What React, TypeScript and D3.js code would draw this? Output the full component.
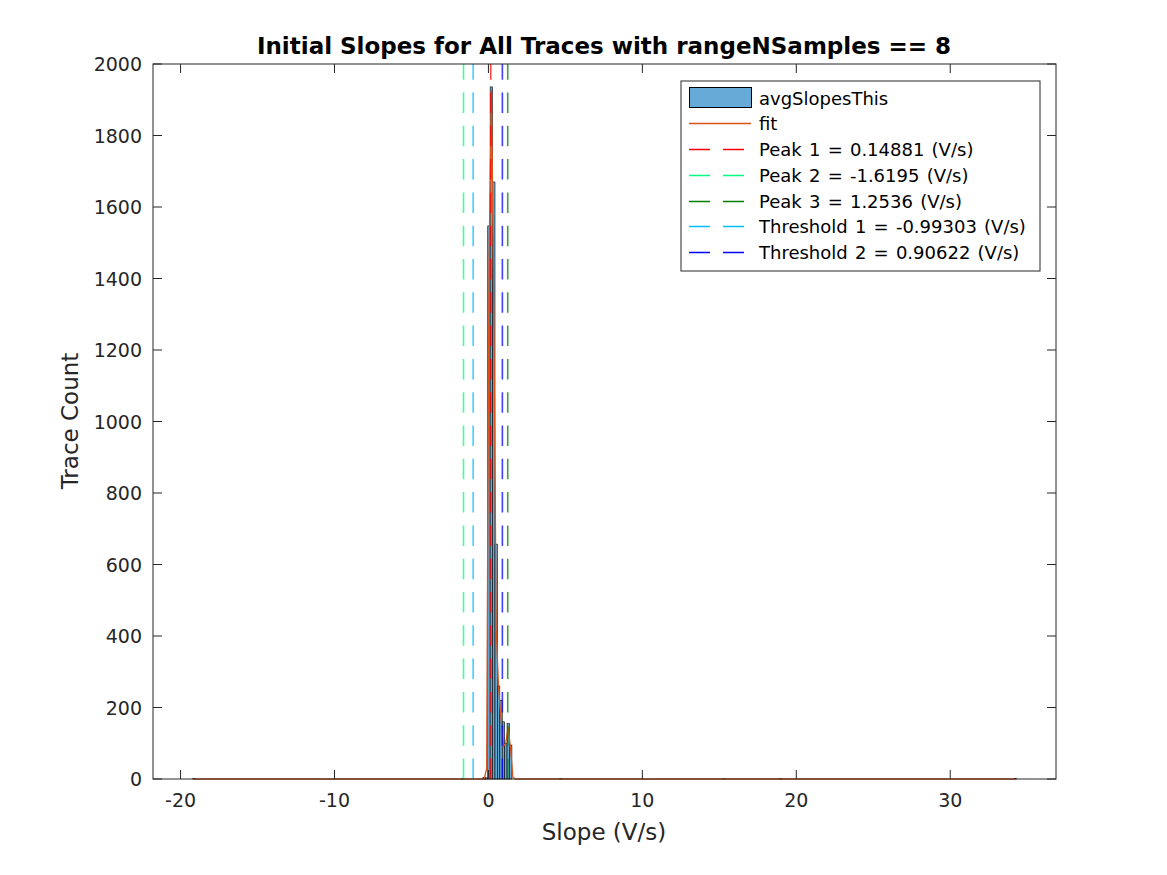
import React from 'react';
import * as d3 from 'd3';

// histogram (avgSlopesThis) - main cluster, consecutive bins
const binWidth = 0.157;
const clusterStart = -0.045;
const clusterCounts = [1547, 1936, 1670, 657, 260, 220, 160, 100, 155, 95];
// isolated small bins (left edge, count)
const strayBinLefts = [-19.2, -1.75, -0.36, -0.2, 4.62, 15.25, 18.9, 34.15];
const strayBinCounts = [1, 2, 4, 3, 2, 1, 1, 1];

// fit curve points
const fitX = [-19.15, -0.27, -0.115, 0.04, 0.195, 0.35, 0.505, 0.66, 0.815, 0.97, 1.125, 1.28, 1.435, 1.59, 1.75, 34.2];
const fitY = [0, 0, 30, 1450, 1930, 1300, 420, 255, 170, 92, 100, 145, 85, 5, 0, 0];

// vertical markers
const markerLabels = ['Peak 1 = 0.14881 (V/s)', 'Peak 2 = -1.6195 (V/s)', 'Peak 3 = 1.2536 (V/s)', 'Threshold 1 = -0.99303 (V/s)', 'Threshold 2 = 0.90622 (V/s)'];
const markerValues = [0.14881, -1.6195, 1.2536, -0.99303, 0.90622];
const markerColors = ['#ff0000', '#00ff80', '#008000', '#00bfff', '#0000ff'];

const xTicks = [-20, -10, 0, 10, 20, 30];
const yTicks = [0, 200, 400, 600, 800, 1000, 1200, 1400, 1600, 1800, 2000];

const W = 1167, H = 875;
const margin = { left: 153, right: 1056, top: 64, bottom: 779 };
const axisColor = '#262626';
const font = '"DejaVu Sans", sans-serif';
const dash = '20.5 12.8';
const tickFont = 19;
const labelFont = 23;
const legendFont = 18;

export default function App() {
    const x = d3.scaleLinear().domain([-21.79, 36.87]).range([margin.left, margin.right]);
    const y = d3.scaleLinear().domain([0, 2000]).range([margin.bottom, margin.top]);

    const bins = clusterCounts.map((c, i) => ({ x0: clusterStart + i * binWidth, count: c }))
        .concat(strayBinLefts.map((l, i) => ({ x0: l, count: strayBinCounts[i] })));

    const fitLine = d3.line<number>()
        .x((d, i) => x(fitX[i]))
        .y(d => y(d));

    const legendX = 681, legendY = 81, legendW = 359, legendH = 190;
    const rowH = 25.8;

    return (
        <svg width={W} height={H} style={{ position: 'absolute', left: 0, top: 0, background: '#fff' }}>
            <rect x={0} y={0} width={W} height={H} fill="#fff" />

            {/* histogram */}
            {bins.map((b, i) => (
                <rect key={'b' + i}
                    x={x(b.x0)} width={x(b.x0 + binWidth) - x(b.x0)}
                    y={y(b.count)} height={y(0) - y(b.count)}
                    fill="#66aad7" stroke="#000" strokeWidth={0.6} />
            ))}

            {/* fit */}
            <path d={fitLine(fitY) || ''} fill="none" stroke="#d95319" strokeWidth={1.3} />

            {/* markers */}
            {markerValues.map((v, i) => (
                <line key={'m' + i} x1={x(v)} x2={x(v)} y1={y(0)} y2={y(2000)}
                    stroke={markerColors[i]} strokeWidth={1.6} strokeOpacity={0.75} strokeDasharray={dash} />
            ))}

            {/* axes box */}
            <rect x={margin.left} y={margin.top} width={margin.right - margin.left} height={margin.bottom - margin.top}
                fill="none" stroke={axisColor} strokeWidth={1} />
            {xTicks.map(t => (
                <g key={'xt' + t}>
                    <line x1={x(t)} x2={x(t)} y1={margin.bottom} y2={margin.bottom - 9} stroke={axisColor} />
                    <line x1={x(t)} x2={x(t)} y1={margin.top} y2={margin.top + 9} stroke={axisColor} />
                    <text x={x(t)} y={margin.bottom + 28} textAnchor="middle" fontFamily={font} fontSize={tickFont} fill={axisColor}>{t}</text>
                </g>
            ))}
            {yTicks.map(t => (
                <g key={'yt' + t}>
                    <line x1={margin.left} x2={margin.left + 9} y1={y(t)} y2={y(t)} stroke={axisColor} />
                    <line x1={margin.right} x2={margin.right - 9} y1={y(t)} y2={y(t)} stroke={axisColor} />
                    <text x={margin.left - 11} y={y(t) + 7} textAnchor="end" fontFamily={font} fontSize={tickFont} fill={axisColor}>{t}</text>
                </g>
            ))}

            {/* labels */}
            <text x={604} y={54} textAnchor="middle" fontFamily={font} fontSize={labelFont} fontWeight="bold" fill="#000">
                Initial Slopes for All Traces with rangeNSamples == 8
            </text>
            <text x={604} y={840} textAnchor="middle" fontFamily={font} fontSize={labelFont} fill={axisColor}>Slope (V/s)</text>
            <text transform="translate(78,421) rotate(-90)" textAnchor="middle" fontFamily={font} fontSize={labelFont} fill={axisColor}>Trace Count</text>

            {/* legend */}
            <g>
                <rect x={legendX} y={legendY} width={legendW} height={legendH} fill="#fff" stroke={axisColor} strokeWidth={1} />
                <rect x={689.5} y={87.5} width={62} height={20} fill="#66aad7" stroke="#000" strokeWidth={1} />
                <text x={759} y={104.5} fontFamily={font} fontSize={legendFont} fill="#000">avgSlopesThis</text>
                <line x1={689} x2={751} y1={123.5} y2={123.5} stroke="#d95319" strokeWidth={1.3} />
                <text x={759} y={130} fontFamily={font} fontSize={legendFont} fill="#000">fit</text>
                {markerLabels.map((lab, i) => {
                    const cy = Math.round(149 + i * rowH) + 0.5;
                    return (
                        <g key={'l' + i}>
                            <line x1={689} x2={751} y1={cy} y2={cy} stroke={markerColors[i]} strokeWidth={1.5} strokeDasharray="21 13" />
                            <text x={759} y={cy + 6.5} fontFamily={font} fontSize={legendFont} wordSpacing={1.5} fill="#000">{lab}</text>
                        </g>
                    );
                })}
            </g>
        </svg>
    );
}
